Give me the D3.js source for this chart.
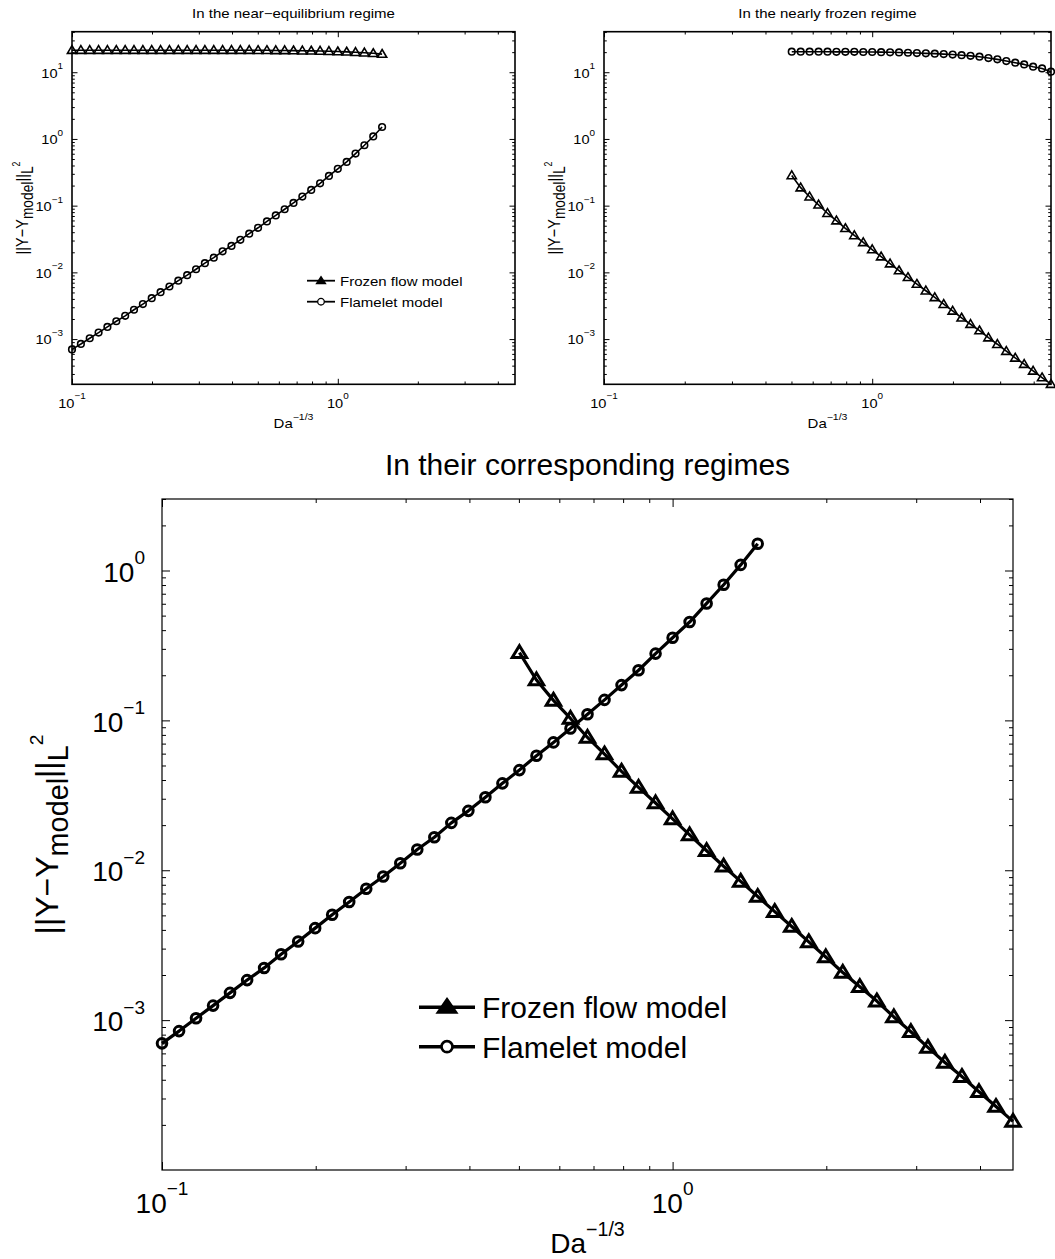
<!DOCTYPE html>
<html>
<head>
<meta charset="utf-8">
<script src="https://cdn.jsdelivr.net/npm/d3@7"></script>
<style>
  body { margin: 0; background: #fff; }
  text { font-family: "Liberation Sans", Arial, Helvetica, sans-serif; fill: #000; }
</style>
</head>
<body>
<div id="d3-container"></div>
<script>
// Da^-1/3 values of the two runs
const xEquil = [0.1000, 0.1080, 0.1166, 0.1259, 0.1359, 0.1468, 0.1585, 0.1711, 0.1848, 0.1995,
  0.2154, 0.2326, 0.2512, 0.2712, 0.2929, 0.3162, 0.3415, 0.3687, 0.3981, 0.4299,
  0.4642, 0.5012, 0.5412, 0.5843, 0.6310, 0.6813, 0.7356, 0.7943, 0.8577, 0.9261,
  1.0000, 1.0798, 1.1659, 1.2589, 1.3594, 1.4678];
const xFrozen = [0.5012, 0.5412, 0.5843, 0.6310, 0.6813, 0.7356, 0.7943, 0.8577, 0.9261, 1.0000,
  1.0798, 1.1659, 1.2589, 1.3594, 1.4678, 1.5849, 1.7113, 1.8478, 1.9953, 2.1544,
  2.3263, 2.5119, 2.7123, 2.9286, 3.1623, 3.4145, 3.6869, 3.9811, 4.2987, 4.6416];

// near-equilibrium regime
const frozenEquil = [21.4, 21.4, 21.4, 21.4, 21.4, 21.4, 21.4, 21.4, 21.4, 21.4,
  21.4, 21.4, 21.4, 21.4, 21.4, 21.4, 21.4, 21.4, 21.4, 21.4,
  21.4, 21.3, 21.3, 21.2, 21.2, 21.1, 21.0, 20.9, 20.8, 20.6,
  20.4, 20.2, 19.9, 19.6, 19.2, 18.7];
const flameletEquil = [7.0e-4, 8.45e-4, 1.03e-3, 1.25e-3, 1.52e-3, 1.85e-3, 2.23e-3, 2.75e-3, 3.35e-3, 4.11e-3,
  5.05e-3, 6.14e-3, 7.52e-3, 9.08e-3, 0.01114, 0.01374, 0.0166, 0.0207, 0.0249, 0.0307,
  0.0380, 0.0466, 0.0581, 0.0713, 0.0883, 0.110, 0.137, 0.172, 0.216, 0.279,
  0.356, 0.453, 0.603, 0.804, 1.09, 1.51];

// nearly frozen regime
const frozenFrozen = [0.283, 0.186, 0.136, 0.103, 0.0769, 0.0596, 0.0457, 0.0357, 0.0281, 0.0220,
  0.0172, 0.0135, 0.01064, 8.43e-3, 6.68e-3, 5.30e-3, 4.21e-3, 3.33e-3, 2.64e-3, 2.08e-3,
  1.67e-3, 1.34e-3, 1.05e-3, 8.37e-4, 6.58e-4, 5.22e-4, 4.20e-4, 3.33e-4, 2.65e-4, 2.11e-4];
const flameletFrozen = [20.3, 20.3, 20.3, 20.3, 20.3, 20.2, 20.2, 20.2, 20.1, 20.1,
  20.0, 19.9, 19.8, 19.6, 19.4, 19.2, 19.0, 18.7, 18.4, 18.0,
  17.6, 17.1, 16.3, 15.6, 14.7, 13.9, 13.1, 12.1, 11.4, 10.2];

const xLimits = [0.1, 4.6416];
const yLimitsTop = [2.1e-4, 40.5];
const yLimitsBottom = [1e-4, 3];
const xMajor = [0.1, 1];
const yMajorTop = [1e-3, 1e-2, 1e-1, 1, 10];
const yMajorBottom = [1e-3, 1e-2, 1e-1, 1];
const seriesNames = ["Frozen flow model", "Flamelet model"];

const w = 1055, h = 1259;
const svg = d3.select("#d3-container").append("svg")
  .attr("width", w).attr("height", h);

function markerPath(type, s) {
  if (type === "circle") {
    const r = s.r;
    return `M${r},0A${r},${r} 0 1,1 ${-r},0A${r},${r} 0 1,1 ${r},0Z`;
  }
  return `M0,${-s.a}L${s.b},${s.c}L${-s.b},${s.c}Z`;
}

function expText(v) {
  return String(Math.round(Math.log10(v))).replace("-", "\u2212");
}

// "10^e" style label
function powText(parent, px, py, base, sup, o) {
  const t = parent.append("g")
    .attr("transform", `translate(${px},${py}) scale(${o.sx},1)`)
    .append("text")
    .attr("text-anchor", o.anchor)
    .style("font-size", o.fs + "px");
  t.append("tspan").text(base);
  t.append("tspan").attr("dy", -o.fs * 0.62).style("font-size", (o.fs * o.supK) + "px").text(sup);
  return t;
}

function drawPanel(p) {
  const g = svg.append("g");
  const x = d3.scaleLog().domain(xLimits).range([p.left, p.right]);
  const y = d3.scaleLog().domain(p.yLim).range([p.bottom, p.top]);
  const isMajor = v => Math.abs(Math.log10(v) - Math.round(Math.log10(v))) < 1e-6;
  const xMinor = x.ticks().filter(v => !isMajor(v));
  const yMinor = y.ticks().filter(v => !isMajor(v));

  const sides = [
    [d3.axisBottom, `translate(0,${p.bottom})`, x, xMajor, xMinor],
    [d3.axisTop, `translate(0,${p.top})`, x, xMajor, xMinor],
    [d3.axisLeft, `translate(${p.left},0)`, y, p.yMajor, yMinor],
    [d3.axisRight, `translate(${p.right},0)`, y, p.yMajor, yMinor]
  ];
  sides.forEach(([fn, tr, sc, maj, min]) => {
    g.append("g").attr("transform", tr)
      .call(fn(sc).tickValues(maj).tickSize(-p.major).tickSizeOuter(0).tickFormat(""));
    g.append("g").attr("transform", tr)
      .call(fn(sc).tickValues(min).tickSize(-p.minor).tickSizeOuter(0).tickFormat(""));
  });
  g.selectAll(".domain").remove();
  g.selectAll(".tick line").attr("stroke", "#000").attr("stroke-width", p.tickW);

  g.append("rect")
    .attr("x", p.left).attr("y", p.top)
    .attr("width", p.right - p.left).attr("height", p.bottom - p.top)
    .attr("fill", "none").attr("stroke", "#000").attr("stroke-width", p.boxW);

  // tick labels
  xMajor.forEach(v => powText(g, x(v), p.bottom + p.xLabOff, "10", expText(v),
    { sx: p.tickSx, fs: p.tickFs, anchor: "middle", supK: 0.68 }));
  p.yMajor.forEach(v => powText(g, p.left - p.yLabGap, y(v) + p.tickFs * 0.4, "10", expText(v),
    { sx: p.tickSx, fs: p.tickFs, anchor: "end", supK: 0.68 }));

  // title
  g.append("g")
    .attr("transform", `translate(${(p.left + p.right) / 2},${p.titleY}) scale(${p.sx},1)`)
    .append("text").attr("text-anchor", "middle")
    .style("font-size", p.titleFs + "px").text(p.title);

  // x label
  powText(g, (p.left + p.right) / 2, p.xTitleY, "Da", "\u22121/3",
    { sx: p.sx, fs: p.labFs, anchor: "middle", supK: 0.7 });

  // y label
  const fs = p.yLabFs;
  const yl = g.append("g")
    .attr("transform", `translate(${p.yTitleX},${(p.top + p.bottom) / 2}) scale(${p.sx},1) rotate(-90)`)
    .append("text").attr("text-anchor", "middle").style("font-size", fs + "px");
  yl.append("tspan").text("||Y\u2212Y");
  yl.append("tspan").attr("dy", fs * 0.3).style("font-size", (fs * p.subK) + "px").text("model");
  yl.append("tspan").attr("dy", -fs * 0.3).text("||");
  yl.append("tspan").attr("dy", fs * 0.3).style("font-size", (fs * p.subK) + "px").text("L");
  yl.append("tspan").attr("dy", -fs * 0.78).style("font-size", (fs * 0.6) + "px").text("2");

  // series
  const line = d3.line().x(d => x(d[0])).y(d => y(d[1]));
  p.series.forEach(s => {
    const pts = d3.zip(s.x, s.y);
    g.append("path").datum(pts).attr("d", line)
      .attr("fill", "none").attr("stroke", "#000")
      .attr("stroke-width", p.lineW).attr("stroke-linejoin", "round");
    g.append("g").selectAll("path").data(pts).join("path")
      .attr("transform", d => `translate(${x(d[0])},${y(d[1])})`)
      .attr("d", markerPath(s.marker, p.mk))
      .attr("fill", "none").attr("stroke", "#000").attr("stroke-width", p.mkW);
  });

  // legend
  if (p.legend) {
    const L = p.legend;
    [["tri", seriesNames[0]], ["circle", seriesNames[1]]].forEach(([mk, name], i) => {
      const cy = L.y + i * L.dy;
      g.append("line").attr("x1", L.x1).attr("x2", L.x2).attr("y1", cy).attr("y2", cy)
        .attr("stroke", "#000").attr("stroke-width", L.lineW);
      g.append("path")
        .attr("transform", `translate(${(L.x1 + L.x2) / 2},${cy})`)
        .attr("d", markerPath(mk, L.mk))
        .attr("fill", mk === "tri" ? "#000" : "#fff")
        .attr("stroke", "#000").attr("stroke-width", L.mkW);
      g.append("g").attr("transform", `translate(${L.tx},${cy + L.base}) scale(${p.sx},1)`)
        .append("text").style("font-size", L.fs + "px").text(name);
    });
  }
}

const topStyle = {
  top: 31.7, bottom: 384.3, yLim: yLimitsTop, yMajor: yMajorTop,
  major: 5.5, minor: 2.8, tickW: 1, boxW: 1.6, sx: 1.2, tickSx: 1.08,
  tickFs: 13.5, xLabOff: 23.5, yLabGap: 9, titleFs: 12.5, titleY: 18,
  labFs: 12.5, xTitleY: 428, yLabFs: 14.5, subK: 0.95, lineW: 1.6, mkW: 1.6,
  mk: { r: 3.3, a: 4.6, b: 4.6, c: 3.2 }
};

drawPanel(Object.assign({}, topStyle, {
  left: 72, right: 515, yTitleX: 28,
  title: "In the near\u2212equilibrium regime",
  series: [
    { x: xEquil, y: frozenEquil, marker: "tri" },
    { x: xEquil, y: flameletEquil, marker: "circle" }
  ],
  legend: { x1: 307, x2: 335, y: 280.7, dy: 21, tx: 340, base: 5, fs: 12.5, lineW: 1.8, mkW: 1.3,
    mk: { r: 3.3, a: 4, b: 4.5, c: 3 } }
}));

drawPanel(Object.assign({}, topStyle, {
  left: 604, right: 1051, yTitleX: 560,
  title: "In the nearly frozen regime",
  series: [
    { x: xFrozen, y: frozenFrozen, marker: "tri" },
    { x: xFrozen, y: flameletFrozen, marker: "circle" }
  ]
}));

drawPanel({
  left: 162, right: 1013, top: 499, bottom: 1170, yLim: yLimitsBottom, yMajor: yMajorBottom,
  major: 8, minor: 4, tickW: 1, boxW: 1.2, sx: 1, tickSx: 1,
  tickFs: 28, xLabOff: 42.5, yLabGap: 17, titleFs: 30, titleY: 475,
  labFs: 28, xTitleY: 1253, yTitleX: 58, yLabFs: 32, subK: 0.9, lineW: 3.2, mkW: 3,
  title: "In their corresponding regimes",
  mk: { r: 4.8, a: 7, b: 7.2, c: 4.8 },
  series: [
    { x: xFrozen, y: frozenFrozen, marker: "tri" },
    { x: xEquil, y: flameletEquil, marker: "circle" }
  ],
  legend: { x1: 419, x2: 475, y: 1007.3, dy: 39.4, tx: 482, base: 11, fs: 30, lineW: 3.4, mkW: 2.7,
    mk: { r: 5.5, a: 8, b: 9, c: 5 } }
});
</script>
</body>
</html>
